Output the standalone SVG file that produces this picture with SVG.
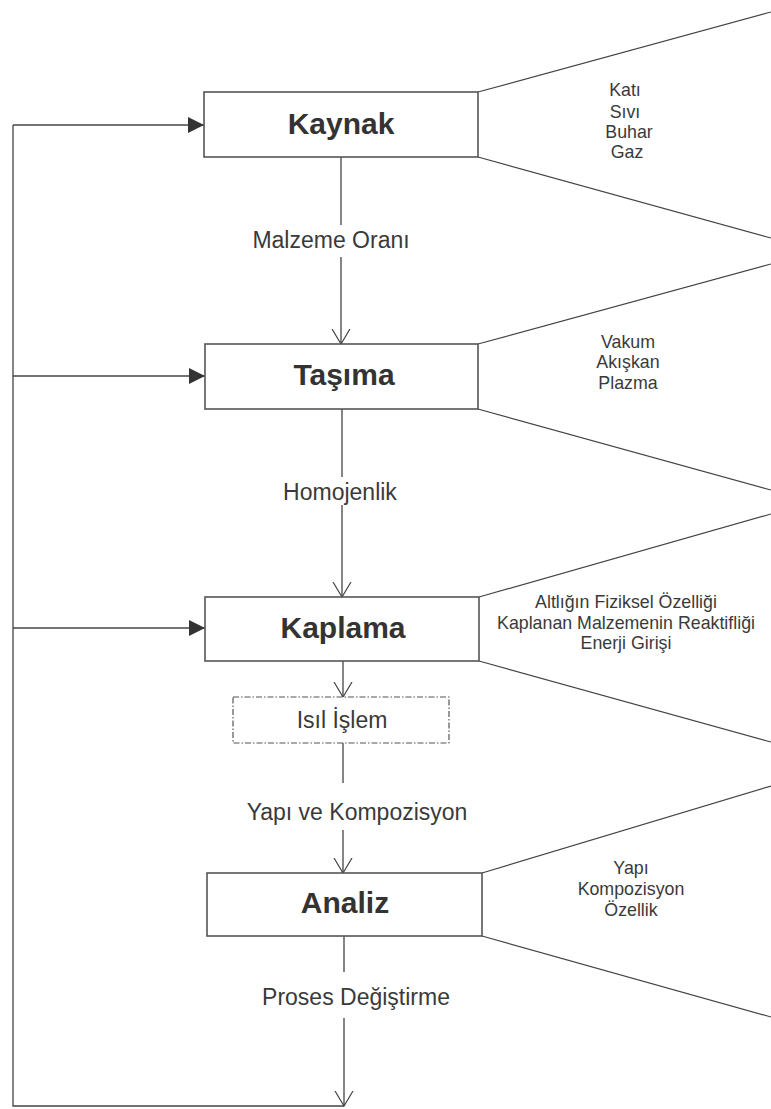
<svg xmlns="http://www.w3.org/2000/svg" width="771" height="1109" viewBox="0 0 771 1109">
<style>
.bg{fill:#ffffff}
.box{fill:#ffffff;stroke:#555;stroke-width:1.6}
.dbox{fill:#ffffff;stroke:#555;stroke-width:1.2;stroke-dasharray:6 2 1.5 2}
.ln{fill:none;stroke:#444;stroke-width:1.3}
.fan{fill:none;stroke:#444;stroke-width:1.2}
.node{font-family:"Liberation Sans",Arial,sans-serif;font-weight:bold;font-size:30px;fill:#333;text-anchor:middle}
.lbl{font-family:"Liberation Sans",Arial,sans-serif;font-size:23px;fill:#3a3a3a;text-anchor:middle}
.side{font-family:"Liberation Sans",Arial,sans-serif;font-size:17.8px;fill:#3a3a3a;text-anchor:middle}
</style>
<defs>
<marker id="fill" viewBox="0 0 16 16" refX="16" refY="8" markerWidth="16" markerHeight="16" markerUnits="userSpaceOnUse" orient="auto">
<path d="M0,0 L16,8 L0,16 Z" fill="#333"/>
</marker>
<marker id="open" viewBox="0 0 16 20" refX="15" refY="10" markerWidth="16" markerHeight="20" markerUnits="userSpaceOnUse" orient="auto">
<path d="M0,1 L15,10 L0,19" fill="none" stroke="#444" stroke-width="1.2"/>
</marker>
</defs>
<rect class="bg" x="0" y="0" width="771" height="1109"/>

<g id="connectors">
<path class="ln" d="M344,1106 L13,1106 L13,125"/>
<line class="ln" x1="13" y1="125" x2="204" y2="125" marker-end="url(#fill)"/>
<line class="ln" x1="13" y1="376" x2="205" y2="376" marker-end="url(#fill)"/>
<line class="ln" x1="13" y1="628" x2="205" y2="628" marker-end="url(#fill)"/>
<line class="ln" x1="341" y1="157" x2="341" y2="225"/>
<line class="ln" x1="341" y1="257" x2="341" y2="344" marker-end="url(#open)"/>
<line class="ln" x1="342" y1="409" x2="342" y2="477"/>
<line class="ln" x1="342" y1="505" x2="342" y2="597" marker-end="url(#open)"/>
<line class="ln" x1="343" y1="661" x2="343" y2="697" marker-end="url(#open)"/>
<line class="ln" x1="343" y1="743" x2="343" y2="783"/>
<line class="ln" x1="343" y1="830" x2="343" y2="873" marker-end="url(#open)"/>
<line class="ln" x1="344" y1="936" x2="344" y2="972"/>
<line class="ln" x1="344" y1="1018" x2="344" y2="1106" marker-end="url(#open)"/>
<polyline class="fan" points="771,12 478,92"/>
<polyline class="fan" points="478,157 771,238"/>
<polyline class="fan" points="771,264 478,344"/>
<polyline class="fan" points="478,409 771,490"/>
<polyline class="fan" points="771,514 479,597"/>
<polyline class="fan" points="479,661 771,742"/>
<polyline class="fan" points="771,786 482,873"/>
<polyline class="fan" points="482,936 771,1017"/>
<text class="lbl" x="331" y="248">Malzeme Oranı</text>
<text class="lbl" x="340" y="500">Homojenlik</text>
<text class="lbl" x="357" y="820">Yapı ve Kompozisyon</text>
<text class="lbl" x="356" y="1005">Proses Değiştirme</text>
</g>

<g id="kaynak">
<rect class="box" x="204" y="92" width="274" height="65"/>
<text class="node" x="341" y="134">Kaynak</text>
</g>
<g id="kaynak-notes">
<text class="side" x="625" y="96">Katı</text>
<text class="side" x="625" y="118">Sıvı</text>
<text class="side" x="629" y="138">Buhar</text>
<text class="side" x="627" y="158">Gaz</text>
</g>

<g id="tasima">
<rect class="box" x="205" y="344" width="273" height="65"/>
<text class="node" x="344" y="385">Taşıma</text>
</g>
<g id="tasima-notes">
<text class="side" x="628" y="348">Vakum</text>
<text class="side" x="628" y="368">Akışkan</text>
<text class="side" x="628" y="389">Plazma</text>
</g>

<g id="kaplama">
<rect class="box" x="205" y="597" width="274" height="64"/>
<text class="node" x="343" y="638">Kaplama</text>
</g>
<g id="kaplama-notes">
<text class="side" x="626" y="608">Altlığın Fiziksel Özelliği</text>
<text class="side" x="626" y="629">Kaplanan Malzemenin Reaktifliği</text>
<text class="side" x="626" y="649">Enerji Girişi</text>
</g>

<g id="isil-islem">
<rect class="dbox" x="233" y="697" width="216" height="46"/>
<text class="lbl" x="342" y="728">Isıl İşlem</text>
</g>

<g id="analiz">
<rect class="box" x="207" y="873" width="275" height="63"/>
<text class="node" x="345" y="913">Analiz</text>
</g>
<g id="analiz-notes">
<text class="side" x="631" y="874">Yapı</text>
<text class="side" x="631" y="895">Kompozisyon</text>
<text class="side" x="631" y="916">Özellik</text>
</g>
</svg>
